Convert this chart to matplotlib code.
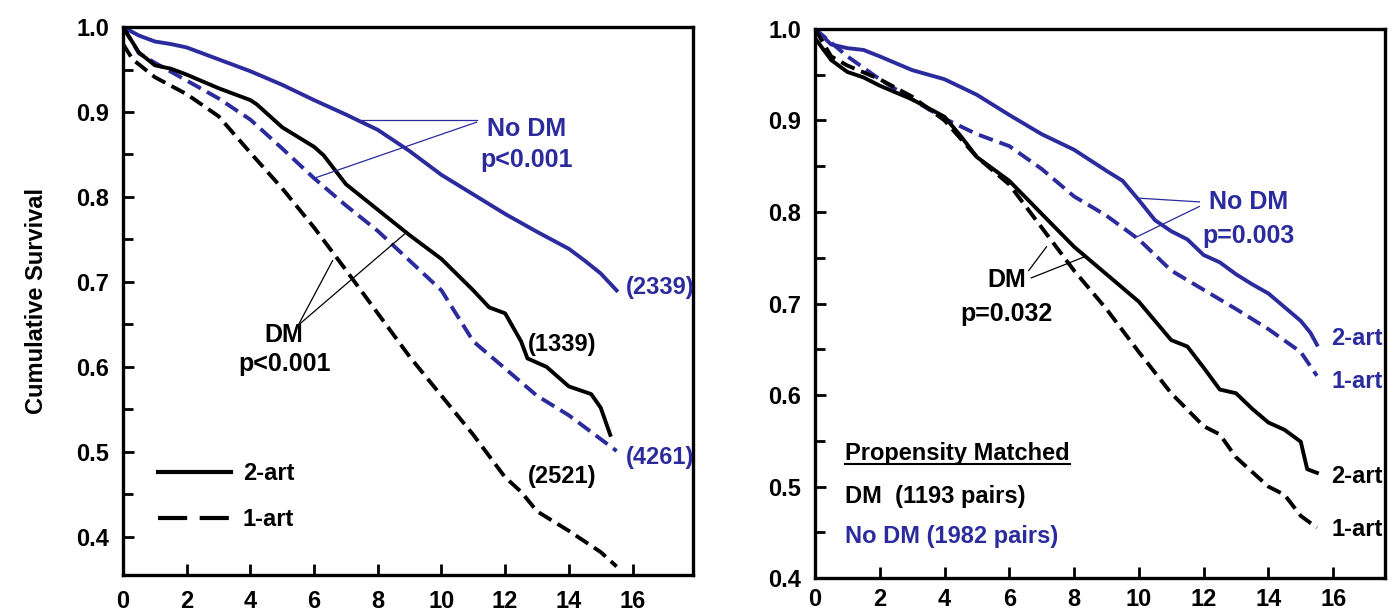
import matplotlib
matplotlib.use("Agg")
import matplotlib.pyplot as plt
from matplotlib.lines import Line2D

plt.rcParams['font.family'] = ['Liberation Sans', 'DejaVu Sans']
plt.rcParams['font.weight'] = 'bold'

BLUE = '#2b2b9e'
BLACK = '#000000'

# ---- left panel: all patients (years vs survival)
L_nodm2_x = [0, 0.5, 1, 1.5, 2, 3, 3.5, 4, 5, 6, 7, 8, 9, 10, 11, 12, 13, 14, 14.5, 15, 15.5]
L_nodm2_y = [1.0, 0.99, 0.983, 0.98, 0.976, 0.962, 0.955, 0.948, 0.932, 0.914, 0.897, 0.879, 0.854, 0.826, 0.803, 0.78, 0.759, 0.739, 0.725, 0.71, 0.69]

L_nodm1_x = [0, 0.5, 1, 2, 3, 4, 5, 6, 7, 8, 9, 10, 11, 12, 13, 14, 15, 15.5]
L_nodm1_y = [1.0, 0.969, 0.958, 0.937, 0.916, 0.891, 0.857, 0.822, 0.79, 0.76, 0.725, 0.69, 0.63, 0.598, 0.566, 0.543, 0.515, 0.501]

L_dm2_x = [0, 0.5, 1, 1.5, 2, 3, 4, 4.2, 5, 6, 6.3, 7, 8, 9, 10, 11, 11.5, 12, 12.5, 12.7, 13.3, 14, 14.7, 15, 15.3]
L_dm2_y = [1.0, 0.97, 0.955, 0.951, 0.944, 0.928, 0.914, 0.909, 0.882, 0.859, 0.849, 0.815, 0.785, 0.755, 0.727, 0.69, 0.67, 0.663, 0.63, 0.61, 0.6, 0.577, 0.568, 0.552, 0.52]

L_dm1_x = [0, 0.3, 1, 2, 3, 4, 5, 6, 7, 8, 9, 10, 11, 12, 12.5, 13, 14, 15, 15.5]
L_dm1_y = [0.98, 0.962, 0.941, 0.921, 0.895, 0.852, 0.81, 0.764, 0.714, 0.663, 0.612, 0.566, 0.52, 0.47, 0.453, 0.43, 0.407, 0.382, 0.365]

# ---- right panel: propensity matched
R_nodm2_x = [0, 0.5, 1, 1.5, 2, 3, 4, 5, 6, 7, 8, 9, 9.5, 10, 10.5, 11, 11.5, 12, 12.5, 13, 13.5, 14, 14.5, 15, 15.3, 15.5]
R_nodm2_y = [1.0, 0.983, 0.979, 0.977, 0.97, 0.955, 0.945, 0.928, 0.906, 0.885, 0.868, 0.845, 0.834, 0.813, 0.791, 0.779, 0.77, 0.753, 0.745, 0.732, 0.721, 0.711, 0.696, 0.681, 0.668, 0.655]

R_nodm1_x = [0, 1, 2, 3, 4, 5, 6, 7, 8, 9, 10, 11, 12, 13, 14, 15, 15.5]
R_nodm1_y = [1.0, 0.97, 0.945, 0.923, 0.902, 0.885, 0.872, 0.847, 0.817, 0.796, 0.77, 0.736, 0.715, 0.694, 0.672, 0.647, 0.621]

R_dm2_x = [0, 0.5, 1, 1.5, 2, 3, 4, 4.5, 5, 6, 7, 8, 9, 10, 11, 11.5, 12, 12.5, 13, 13.5, 14, 14.5, 15, 15.2, 15.5]
R_dm2_y = [0.99, 0.966, 0.953, 0.947, 0.938, 0.923, 0.904, 0.883, 0.86, 0.834, 0.798, 0.762, 0.732, 0.702, 0.66, 0.653, 0.63, 0.606, 0.602, 0.585, 0.57, 0.562, 0.549, 0.519, 0.515]

R_dm1_x = [0, 0.5, 1, 2, 3, 4, 5, 6, 7, 8, 9, 10, 11, 12, 12.5, 13, 14, 14.5, 15, 15.5]
R_dm1_y = [1.0, 0.97, 0.96, 0.945, 0.926, 0.9, 0.86, 0.83, 0.783, 0.736, 0.694, 0.647, 0.602, 0.566, 0.557, 0.532, 0.5, 0.491, 0.468, 0.455]

x_ticks = [0, 2, 4, 6, 8, 10, 12, 14, 16]
y_ticks = [0.4, 0.5, 0.6, 0.7, 0.8, 0.9, 1.0]
y_minor = [0.45, 0.55, 0.65, 0.75, 0.85, 0.95]

LW = 2.8
DASH = (3.8, 1.8)
FS = 17

fig = plt.figure(figsize=(13.95, 6.15), dpi=100)
axL = fig.add_axes([0.0882, 0.065, 0.4086, 0.891])
axR = fig.add_axes([0.5842, 0.060, 0.4086, 0.893])


def style(ax, ylo, xhi, xpad):
    ax.set_xlim(0, xhi)
    ax.set_ylim(ylo, 1.0)
    ax.set_xticks(x_ticks)
    ax.set_yticks(y_ticks)
    ax.set_yticks(y_minor, minor=True)
    ax.set_yticklabels([f"{v:.1f}" for v in y_ticks])
    ax.tick_params(axis='both', which='both', direction='in', width=2,
                   labelsize=FS, top=False, right=False)
    ax.tick_params(axis='x', which='major', length=8, pad=xpad)
    ax.tick_params(axis='y', which='major', length=8, pad=10)
    ax.tick_params(axis='y', which='minor', length=7)
    for s in ax.spines.values():
        s.set_linewidth(2.4)
    for lab in ax.get_xticklabels() + ax.get_yticklabels():
        lab.set_fontweight('bold')


# left panel
axL.plot(L_nodm2_x, L_nodm2_y, color=BLUE, lw=LW)
axL.plot(L_nodm1_x, L_nodm1_y, color=BLUE, lw=LW, dashes=DASH)
axL.plot(L_dm2_x, L_dm2_y, color=BLACK, lw=LW)
axL.plot(L_dm1_x, L_dm1_y, color=BLACK, lw=LW, dashes=DASH)
style(axL, 0.355, 17.9, 11)
axL.set_ylabel("Cumulative Survival", fontsize=17, fontweight='bold', labelpad=20)

axL.text(12.66, 0.88, "No DM", color=BLUE, fontsize=18, ha='center', va='center')
axL.text(12.66, 0.843, "p<0.001", color=BLUE, fontsize=18, ha='center', va='center')
axL.plot([11.1, 7.48], [0.891, 0.891], color=BLUE, lw=0.9)
axL.plot([11.1, 6.0], [0.888, 0.822], color=BLUE, lw=0.9)

axL.text(5.06, 0.637, "DM", color=BLACK, fontsize=18, ha='center', va='center')
axL.text(5.06, 0.603, "p<0.001", color=BLACK, fontsize=18, ha='center', va='center')
axL.plot([5.5, 6.58], [0.649, 0.725], color=BLACK, lw=0.9)
axL.plot([5.5, 8.86], [0.649, 0.757], color=BLACK, lw=0.9)

axL.text(12.7, 0.626, "(1339)", color=BLACK, fontsize=FS, va='center')
axL.text(12.7, 0.471, "(2521)", color=BLACK, fontsize=FS, va='center')
axL.text(15.8, 0.693, "(2339)", color=BLUE, fontsize=FS, va='center', clip_on=False)
axL.text(15.8, 0.493, "(4261)", color=BLUE, fontsize=FS, va='center', clip_on=False)

leg_handles = [Line2D([], [], color=BLACK, lw=3.0),
               Line2D([], [], color=BLACK, lw=3.0, dashes=(7, 3))]
leg = axL.legend(leg_handles, ["2-art", "1-art"], loc='lower left',
                 bbox_to_anchor=(0.04, 0.058), frameon=False, fontsize=FS,
                 handlelength=3.1, handletextpad=0.5, labelspacing=1.0,
                 borderpad=0)
for t in leg.get_texts():
    t.set_fontweight('bold')

# right panel
axR.plot(R_nodm2_x, R_nodm2_y, color=BLUE, lw=LW)
axR.plot(R_nodm1_x, R_nodm1_y, color=BLUE, lw=LW, dashes=DASH)
axR.plot(R_dm2_x, R_dm2_y, color=BLACK, lw=LW)
axR.plot(R_dm1_x, R_dm1_y, color=BLACK, lw=LW, dashes=DASH)
style(axR, 0.4, 17.6, 7)

axR.text(13.38, 0.811, "No DM", color=BLUE, fontsize=18, ha='center', va='center')
axR.text(13.38, 0.774, "p=0.003", color=BLUE, fontsize=18, ha='center', va='center')
axR.plot([11.87, 10.03], [0.811, 0.815], color=BLUE, lw=0.9)
axR.plot([11.87, 9.89], [0.806, 0.772], color=BLUE, lw=0.9)

axR.text(5.92, 0.726, "DM", color=BLACK, fontsize=18, ha='center', va='center')
axR.text(5.92, 0.689, "p=0.032", color=BLACK, fontsize=18, ha='center', va='center')
axR.plot([6.6, 7.15], [0.736, 0.762], color=BLACK, lw=0.9)
axR.plot([6.68, 8.32], [0.728, 0.751], color=BLACK, lw=0.9)

axR.text(15.95, 0.662, "2-art", color=BLUE, fontsize=FS, va='center', clip_on=False)
axR.text(15.95, 0.615, "1-art", color=BLUE, fontsize=FS, va='center', clip_on=False)
axR.text(15.95, 0.511, "2-art", color=BLACK, fontsize=FS, va='center', clip_on=False)
axR.text(15.95, 0.453, "1-art", color=BLACK, fontsize=FS, va='center', clip_on=False)

pm = axR.text(0.93, 0.536, "Propensity Matched", color=BLACK, fontsize=FS, va='center')
axR.text(0.93, 0.489, "DM  (1193 pairs)", color=BLACK, fontsize=FS, va='center')
axR.text(0.93, 0.445, "No DM (1982 pairs)", color=BLUE, fontsize=FS, va='center')

# underline under "Propensity Matched"
fig.canvas.draw()
bb = pm.get_window_extent().transformed(fig.transFigure.inverted())
fig.add_artist(Line2D([bb.x0, bb.x1], [bb.y0 + 0.002, bb.y0 + 0.002],
                      color=BLACK, lw=1.5, transform=fig.transFigure))

fig.savefig("out.png", dpi=100)
